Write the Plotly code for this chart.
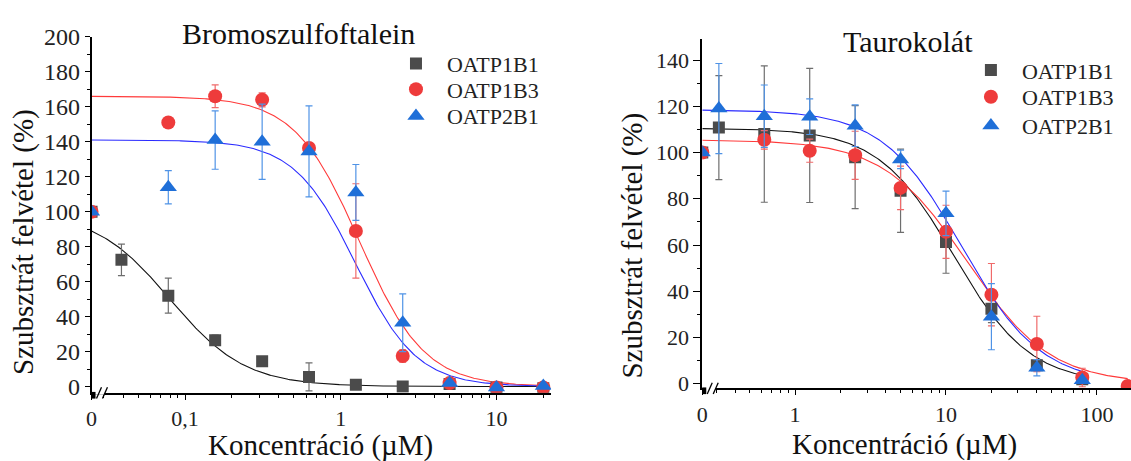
import numpy as np
import plotly.graph_objects as go

W, H = 1131, 461
FONT = "Liberation Serif"

# ---- Bromoszulfoftalein panel -------------------------------------------
bsp_conc = [0.039, 0.078, 0.156, 0.3125, 0.625, 1.25, 2.5, 5, 10, 20]
bsp_1b1 = [72.5, 52, 26.5, 14.5, 5.5, 1, 0, 1.5, -0.5, -1]
bsp_1b1_err = [9, 10, 3, 0, 8, 0, 0, 0, 0, 0]
bsp_1b3 = [None, 151, 166, 164, 136.5, 89, 17.5, 2, -0.5, -0.5]
bsp_1b3_err = [0, 0, 6.5, 4, 3, 27, 3.5, 0, 0, 0]
bsp_2b1 = [None, 114, 141, 140, 134.5, 111, 36.5, 2, -0.5, 0.3]
bsp_2b1_err = [0, 9.5, 16.7, 21.5, 26, 16, 16.5, 0, 0, 0]
bsp_zero = [100, 100, 100]  # uptake at 0 µM for 1B1, 1B3, 2B1

# four-parameter logistic fits: top, bottom, IC50, Hill slope
bsp_fit = {
    "OATP1B1": (100, 0, 0.08, 1.8),
    "OATP1B3": (166, 0, 1.32, 2.08),
    "OATP2B1": (141, 0, 1.244, 2.2),
}

# ---- Taurokolát panel ---------------------------------------------------
tc_conc = [0.3125, 0.625, 1.25, 2.5, 5, 10, 20, 40, 80, 160]
tc_1b1 = [110.8, 108, 107.4, 98, 83.5, 61.3, 32.4, 8, 2, None]
tc_1b1_err = [22.5, 29.5, 29, 22.3, 18, 13.5, 6, 2, 1, 0]
tc_1b3 = [None, 105.5, 100.8, 98.8, 84.7, 65.7, 38.5, 17.2, 2.7, -1]
tc_1b3_err = [0, 4, 5, 10.4, 9.4, 11.5, 13.5, 12, 4, 0]
tc_2b1 = [119, 115.7, 115.5, 111.6, 97, 73.7, 29, 6.9, 1.5, None]
tc_2b1_err = [19.5, 13.5, 7.7, 9, 4, 9.6, 14.3, 3.5, 1, 0]
tc_zero = [100, 100, 100]

tc_fit = {
    "OATP1B1": (110.5, 0, 11.3, 1.72),
    "OATP1B3": (105.5, 0, 13.8, 1.57),
    "OATP2B1": (118.5, 0, 12.7, 1.66),
}
tc_fit_end = {"OATP1B1": 80, "OATP1B3": 160, "OATP2B1": 80}

series_names = ["OATP1B1", "OATP1B3", "OATP2B1"]
marker_color = {"OATP1B1": "#4b4b4b", "OATP1B3": "#ee3b3b", "OATP2B1": "#1f6fd8"}
err_color = {"OATP1B1": "#6e6e6e", "OATP1B3": "#f06a6a", "OATP2B1": "#4f93e6"}
line_color = {"OATP1B1": "#111111", "OATP1B3": "#ff3a3a", "OATP2B1": "#2b2bff"}
symbol = {"OATP1B1": "square", "OATP1B3": "circle", "OATP2B1": "triangle-up"}
msize = {"OATP1B1": 12, "OATP1B3": 14, "OATP2B1": 15}

# ---- layout geometry (pixels) -------------------------------------------
L_x0, L_x1, L_ytop, L_ybot = 86, 548, 25, 398
R_x0, R_x1, R_ytop, R_ybot = 700, 1131, 27, 393.3
L_xrange = [-1.601, 1.351]
R_xrange = [-0.615, 2.226]
L_yrange = [-3.6, 200]
R_yrange = [-2, 149.2]

# one legend box per entry so the rows can be spaced freely
L_legend_x, L_legend_rows = 381, [31, 58, 86]
R_legend_x, R_legend_rows = 959, [38, 66, 96]


def px(x):
    return x / W


def py(y):
    return 1 - y / H


def logistic(x, top, bottom, ic50, hill):
    return bottom + (top - bottom) / (1 + (x / ic50) ** hill)


fig = go.Figure()

panels = [
    ("x", "y", ["legend", "legend2", "legend3"], bsp_conc,
     {"OATP1B1": (bsp_1b1, bsp_1b1_err), "OATP1B3": (bsp_1b3, bsp_1b3_err),
      "OATP2B1": (bsp_2b1, bsp_2b1_err)},
     bsp_zero, bsp_fit, {k: 20 for k in series_names}, L_xrange),
    ("x2", "y2", ["legend4", "legend5", "legend6"], tc_conc,
     {"OATP1B1": (tc_1b1, tc_1b1_err), "OATP1B3": (tc_1b3, tc_1b3_err),
      "OATP2B1": (tc_2b1, tc_2b1_err)},
     tc_zero, tc_fit, tc_fit_end, R_xrange),
]

for xa, ya, legs, conc, data, zero, fits, fit_end, xr in panels:
    zero_x = 10 ** xr[0]
    # fitted dose-response curves
    for name in series_names:
        xs = np.logspace(xr[0], np.log10(fit_end[name]), 300)
        fig.add_trace(go.Scatter(
            x=xs, y=logistic(xs, *fits[name]), mode="lines",
            line=dict(color=line_color[name], width=1.1),
            xaxis=xa, yaxis=ya, showlegend=False, hoverinfo="skip"))
    # measured points with error bars
    for i, name in enumerate(series_names):
        vals, errs = data[name]
        fig.add_trace(go.Scatter(
            x=[zero_x], y=[zero[i]], mode="markers",
            marker=dict(symbol=symbol[name], size=msize[name], color=marker_color[name]),
            xaxis=xa, yaxis=ya, showlegend=False))
        fig.add_trace(go.Scatter(
            x=conc, y=vals, mode="markers", name=name,
            marker=dict(symbol=symbol[name], size=msize[name], color=marker_color[name]),
            error_y=dict(type="data", array=errs, color=err_color[name],
                         thickness=1.2, width=3.5),
            xaxis=xa, yaxis=ya, legend=legs[i]))

axis_common = dict(
    showline=True, linecolor="black", linewidth=1.6, showgrid=False, zeroline=False,
    ticks="outside", tickcolor="black", tickwidth=1.2,
)


def tickfont(size):
    return dict(family=FONT, size=size, color="#222")


def legend_box(x, top):
    return dict(x=px(x), y=py(top), xanchor="left", yanchor="top",
                bgcolor="rgba(0,0,0,0)", itemwidth=52,
                font=dict(family=FONT, size=22, color="#222"))


legends = {}
for k, top in enumerate(L_legend_rows):
    legends["legend" if k == 0 else f"legend{k + 1}"] = legend_box(L_legend_x, top)
for k, top in enumerate(R_legend_rows):
    legends[f"legend{k + 4}"] = legend_box(R_legend_x, top)

fig.update_layout(
    width=W, height=H, margin=dict(l=0, r=0, t=0, b=0),
    paper_bgcolor="white", plot_bgcolor="white",
    xaxis=dict(**axis_common, type="log", range=L_xrange, tickfont=tickfont(22),
               domain=[px(L_x0), px(L_x1)], anchor="y", ticklen=5,
               tickvals=[10 ** L_xrange[0], 0.1, 1, 10], ticktext=["0", "0,1", "1", "10"],
               minor=dict(ticks="outside", ticklen=3, tickcolor="black",
                          tickvals=[0.03, 0.04, 0.05, 0.06, 0.07, 0.08, 0.09,
                                    0.2, 0.3, 0.4, 0.5, 0.6, 0.7, 0.8, 0.9,
                                    2, 3, 4, 5, 6, 7, 8, 9, 20])),
    yaxis=dict(**axis_common, range=L_yrange, domain=[py(L_ybot), py(L_ytop)],
               tickfont=tickfont(24),
               anchor="x", ticklen=5, tickvals=list(range(0, 201, 20)),
               minor=dict(ticks="outside", ticklen=3, tickcolor="black",
                          tickvals=list(range(10, 200, 20)))),
    xaxis2=dict(**axis_common, type="log", range=R_xrange, tickfont=tickfont(22),
                domain=[px(R_x0), px(R_x1)], anchor="y2", ticklen=5,
                tickvals=[10 ** R_xrange[0], 1, 10, 100], ticktext=["0", "1", "10", "100"],
                minor=dict(ticks="outside", ticklen=3, tickcolor="black",
                           tickvals=[0.3, 0.4, 0.5, 0.6, 0.7, 0.8, 0.9,
                                     2, 3, 4, 5, 6, 7, 8, 9,
                                     20, 30, 40, 50, 60, 70, 80, 90])),
    yaxis2=dict(**axis_common, range=R_yrange, domain=[py(R_ybot), py(R_ytop)],
                tickfont=tickfont(22),
                anchor="x2", ticklen=7, tickvals=list(range(0, 141, 20)),
                minor=dict(ticks="outside", ticklen=3, tickcolor="black",
                           tickvals=list(range(10, 150, 20)))),
    showlegend=True,
    **legends,
)

# titles and axis labels
texts = [
    ("Bromoszulfoftalein", 294, 22, 0, 30),
    ("Taurokolát", 907, 30, 0, 30),
    ("Koncentráció (µM)", 316, 453, 0, 29),
    ("Koncentráció (µM)", 903, 452, 0, 29),
    ("Szubsztrát felvétel (%)", 17, 240, -90, 29),
    ("Szubsztrát felvétel (%)", 630, 244, -90, 29),
]
for txt, x, y, ang, size in texts:
    fig.add_annotation(text=txt, x=px(x), y=py(y), xref="paper", yref="paper",
                       xanchor="center", yanchor="middle", showarrow=False,
                       textangle=ang, font=dict(family=FONT, size=size, color="#111"))

# axis-break marks at the origin of both concentration axes
for x0, yline in [(L_x0, L_ybot), (R_x0, R_ybot)]:
    fig.add_shape(type="rect", xref="paper", yref="paper",
                  x0=px(x0 + 1.5), x1=px(x0 + 13), y0=py(yline + 2), y1=py(yline - 2),
                  fillcolor="white", line=dict(width=0), layer="above")
    fig.add_shape(type="rect", xref="paper", yref="paper",
                  x0=px(x0), x1=px(x0 + 4), y0=py(yline + 6), y1=py(yline - 1),
                  fillcolor="black", line=dict(width=0), layer="above")
    for dx in (5, 11):
        fig.add_shape(type="line", xref="paper", yref="paper",
                      x0=px(x0 + dx), y0=py(yline + 6), x1=px(x0 + dx + 5), y1=py(yline - 6),
                      line=dict(color="black", width=1.3), layer="above")

fig.write_html("out.html")
